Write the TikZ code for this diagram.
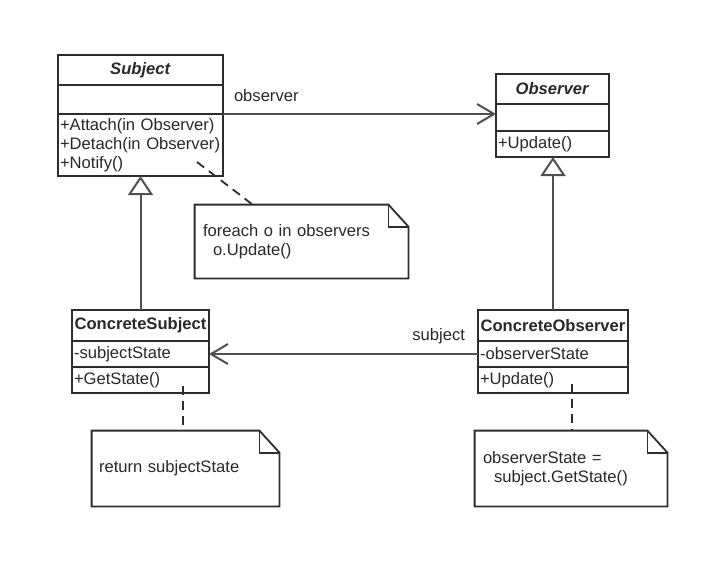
\documentclass[tikz,border=0pt]{standalone}
\usepackage{fontspec}
\setmainfont{Liberation Sans}
\usetikzlibrary{positioning,arrows.meta}
\definecolor{umlline}{RGB}{45,45,45}
\definecolor{linkgrey}{RGB}{80,80,80}
\definecolor{umltext}{RGB}{40,40,40}
\newcommand\notefold[1]{%
\draw[notebox] (#1.north west) -- ([xshift=-10pt]#1.north east) -- ([yshift=-11pt]#1.north east) -- (#1.south east) -- (#1.south west) -- cycle;
\draw[notebox] ([xshift=-10pt]#1.north east) |- ([yshift=-11pt]#1.north east);}

\begin{document}
\begin{tikzpicture}[x=0.5pt,y=-0.5pt,
  every node/.style={font=\fontsize{8.3}{9.5}\selectfont,text=umltext},
  classtitle/.style={draw=umlline,line width=1pt,inner sep=0pt,outer sep=0pt,align=center},
  classrow/.style={draw=umlline,line width=1pt,inner xsep=1pt,inner ysep=0pt,outer sep=0pt,align=left},
  notebox/.style={draw=umlline,line width=0.9pt},
  noteline/.style={draw=umlline,line width=0.9pt,dash pattern=on 4.5pt off 3pt},
  assoc/.style={draw=linkgrey,line width=1pt,-{Straight Barb[length=8.5pt,width=10pt]}},
  inherit/.style={draw=linkgrey,line width=1pt,-{Triangle[open,length=9.5pt,width=12.5pt]}}]
\useasboundingbox (0,0) rectangle (712,573);
\node[classtitle,minimum width=82.5pt,minimum height=15pt] (subjT) at (140.5,70) {\textbf{\textit{Subject}}};
\node[classrow,text width=80.5pt,minimum height=14.5pt,below=0pt of subjT] (subjA) {};
\node[classrow,text width=80.5pt,minimum height=31pt,below=0pt of subjA] (subjM) {+Attach(in Observer)\\+Detach(in Observer)\\+Notify()};
\node[classtitle,minimum width=56.5pt,minimum height=15pt] (obsT) at (552.5,89) {\textbf{\textit{Observer}}};
\node[classrow,text width=54.5pt,minimum height=13.5pt,below=0pt of obsT] (obsA) {};
\node[classrow,text width=54.5pt,minimum height=13pt,below=0pt of obsA] (obsM) {+Update()};
\node[classtitle,minimum width=68.5pt,minimum height=15.5pt] (csT) at (140.5,325.5) {\textbf{ConcreteSubject}};
\node[classrow,text width=66.5pt,minimum height=13pt,below=0pt of csT] (csA) {-subjectState};
\node[classrow,text width=66.5pt,minimum height=13pt,below=0pt of csA] (csM) {+GetState()};
\node[classtitle,minimum width=75pt,minimum height=15.5pt] (coT) at (553,325.5) {\textbf{ConcreteObserver}};
\node[classrow,text width=73pt,minimum height=13pt,below=0pt of coT] (coA) {-observerState};
\node[classrow,text width=73pt,minimum height=13pt,below=0pt of coA] (coM) {+Update()};
\node[inner xsep=4pt,text width=98.5pt,minimum height=36.5pt,align=left] (note1) at (301.5,241.5) {foreach o in observers\\\hspace*{5pt}o.Update()};
\node[inner xsep=3.5pt,text width=86.5pt,minimum height=37.5pt,align=left] (note2) at (185.5,468.5) {return subjectState};
\node[inner xsep=4pt,text width=88pt,minimum height=37.5pt,align=left] (note3) at (571,468.5) {observerState =\\\hspace*{5.5pt}subject.GetState()};
\notefold{note1}
\notefold{note2}
\notefold{note3}
\coordinate (notifyPt) at (197,162);
\coordinate (getStatePt) at (183,386);
\coordinate (updatePt) at (572,384);
\draw[assoc] (subjM.north east) -- node[pos=0,anchor=base west,xshift=5pt,yshift=6.5pt,inner sep=0pt]{observer} (subjM.north east -| obsA.west);
\draw[assoc] (coA.west) -- node[pos=0,anchor=base east,xshift=-6pt,yshift=7pt,inner sep=0pt]{subject} (coA.west -| csA.east);
\draw[inherit] (csT.north) -- (subjM.south);
\draw[inherit] (coT.north) -- (coT.north |- obsM.south);
\draw[noteline] (notifyPt) -- ([xshift=29pt]note1.north west);
\draw[noteline] (getStatePt) -- (getStatePt |- note2.north);
\draw[noteline] (updatePt) -- (updatePt |- note3.north);
\end{tikzpicture}
\end{document}
